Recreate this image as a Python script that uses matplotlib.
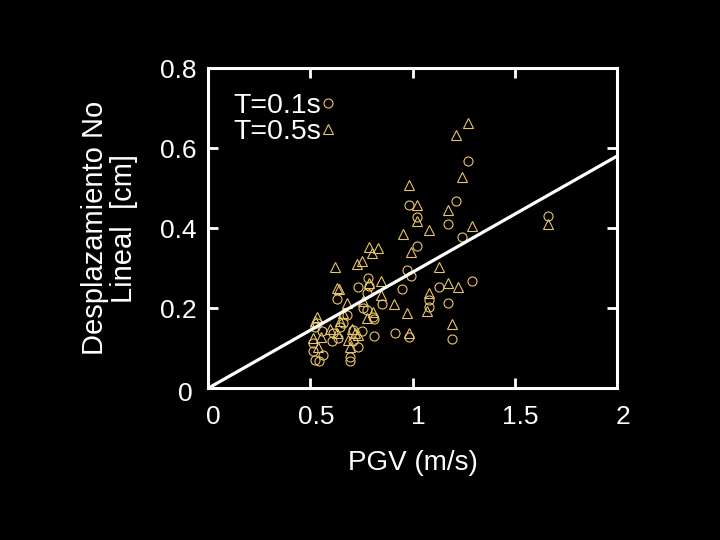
import matplotlib
matplotlib.use("Agg")
import matplotlib.pyplot as plt
from matplotlib.transforms import ScaledTranslation

plt.rcParams['font.family'] = ['Liberation Sans', 'DejaVu Sans']

# T=0.1s (circulos)
pgv_01 = [1.270, 1.211, 0.981, 1.020, 1.171, 1.662, 1.242, 1.020, 0.971, 0.994,
          0.949, 1.291, 1.131, 1.171, 1.079, 1.079, 1.193, 0.981, 0.913, 0.810,
          0.784, 0.735, 0.788, 0.632, 0.852, 0.812, 0.776, 0.756, 0.678, 0.645,
          0.604, 0.612, 0.735, 0.694, 0.694, 0.514, 0.563, 0.522, 0.514, 0.751,
          0.710, 0.534, 0.555, 0.661, 0.776, 0.710, 0.637, 0.542, 0.522, 0.808]
desp_01 = [0.569, 0.468, 0.458, 0.429, 0.410, 0.431, 0.379, 0.356, 0.296, 0.281,
           0.249, 0.267, 0.252, 0.214, 0.221, 0.204, 0.124, 0.129, 0.138, 0.130,
           0.275, 0.252, 0.256, 0.223, 0.211, 0.173, 0.196, 0.200, 0.183, 0.154,
           0.117, 0.138, 0.103, 0.067, 0.077, 0.092, 0.083, 0.071, 0.113, 0.142,
           0.117, 0.163, 0.142, 0.163, 0.238, 0.146, 0.125, 0.067, 0.154, 0.179]

# T=0.5s (triangulos)
pgv_05 = [1.272, 1.211, 1.242, 0.981, 1.020, 1.171, 1.020, 1.079, 1.291, 1.662,
          0.952, 0.787, 0.833, 0.802, 0.991, 0.754, 0.730, 0.620, 1.131, 0.844,
          1.174, 1.221, 0.629, 0.641, 1.079, 0.788, 0.844, 0.678, 0.756, 0.911,
          0.971, 1.073, 0.808, 0.776, 1.193, 0.981, 0.531, 0.522, 0.661, 0.645,
          0.596, 0.514, 0.552, 0.702, 0.718, 0.735, 0.686, 0.539, 0.694, 0.629]
desp_05 = [0.663, 0.633, 0.528, 0.507, 0.458, 0.446, 0.418, 0.396, 0.406, 0.410,
           0.386, 0.354, 0.350, 0.338, 0.340, 0.317, 0.311, 0.304, 0.304, 0.269,
           0.263, 0.252, 0.250, 0.248, 0.239, 0.263, 0.233, 0.213, 0.219, 0.210,
           0.189, 0.194, 0.190, 0.175, 0.161, 0.139, 0.179, 0.169, 0.188, 0.169,
           0.148, 0.125, 0.127, 0.148, 0.138, 0.133, 0.121, 0.104, 0.104, 0.138]

# recta de ajuste
fit_x = [0, 2]
fit_y = [0, 0.29 * 2]

gold = '#E8C468'

fig = plt.figure(figsize=(7.2, 5.4), dpi=100, facecolor='black')
ax = fig.add_axes([0.289, 0.281, 0.568, 0.593], facecolor='black')

ax.plot(fit_x, fit_y, color='white', lw=2.3, zorder=3)
ax.plot(pgv_01, desp_01, 'o', ms=6.5, mfc='none', mec=gold, mew=0.8,
        label='T=0.1s', zorder=2)
ax.plot(pgv_05, desp_05, '^', ms=7.5, mfc='none', mec=gold, mew=0.8,
        label='T=0.5s', zorder=2)

ax.set_xlim(0, 2)
ax.set_ylim(0, 0.8)
ax.set_xticks([0, 0.5, 1, 1.5, 2])
ax.set_xticklabels(['0', '0.5', '1', '1.5', '2'])
ax.set_yticks([0, 0.2, 0.4, 0.6, 0.8])
ax.set_yticklabels(['0', '0.2', '0.4', '0.6', '0.8'])

for s in ax.spines.values():
    s.set_color('white')
    s.set_linewidth(2.2)
ax.tick_params(direction='in', length=7, width=2, colors='white',
               top=True, right=True, labelsize=19)
ax.tick_params(axis='x', pad=12)
ax.tick_params(axis='y', pad=8)

ax.set_xlabel('PGV (m/s)', color='white', fontsize=20, labelpad=15)
ax.set_ylabel('Desplazamiento No\nLineal  [cm]', color='white', fontsize=21,
              labelpad=16, linespacing=1.05)

leg = ax.legend(loc='upper left', frameon=False, markerfirst=False,
                fontsize=20.5, handlelength=0.5, handletextpad=0.0,
                labelspacing=0.0, borderaxespad=0.3,
                bbox_to_anchor=(0.013, 0.985))
for t in leg.get_texts():
    t.set_color('white')

# pequeños desplazamientos de las etiquetas como en el original
fig.canvas.draw()
for lbl in ax.get_xticklabels():
    lbl.set_transform(lbl.get_transform() +
                      ScaledTranslation(4 / 72, 0, fig.dpi_scale_trans))
zero = ax.get_yticklabels()[0]
zero.set_transform(zero.get_transform() +
                   ScaledTranslation(-3 / 72, -2 / 72, fig.dpi_scale_trans))

fig.savefig('out.png', dpi=100, facecolor='black')
